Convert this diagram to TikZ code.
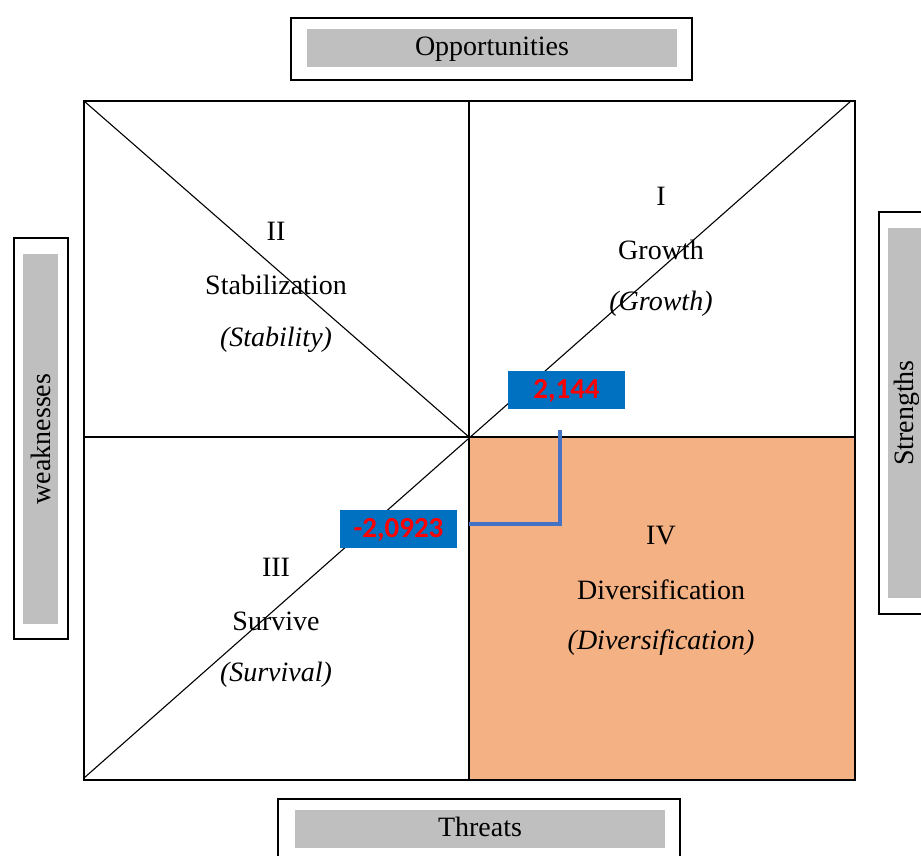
\documentclass[tikz,border=0pt]{standalone}
\usepackage{fontspec}
\setmainfont{Liberation Serif}
\newfontfamily\numfont{Carlito}
\definecolor{peach}{HTML}{F4B183}
\definecolor{boxgray}{HTML}{BFBFBF}
\definecolor{valblue}{HTML}{0070C0}
\definecolor{linkblue}{HTML}{4472C4}
\begin{document}
\begin{tikzpicture}[x=1pt,y=-1pt,
  txt/.style={font=\fontsize{28}{30}\selectfont, inner sep=0pt, yshift=-2pt},
  itxt/.style={font=\fontsize{28}{30}\selectfont\itshape, inner sep=0pt, yshift=-2pt},
  outerbox/.style={draw=black, line width=2pt, fill=white},
  graybox/.style={fill=boxgray, draw=none, inner sep=0pt, font=\fontsize{28}{30}\selectfont},
  valbox/.style={fill=valblue, draw=none, inner sep=0pt, text=red, font=\numfont\bfseries\fontsize{29}{30}\selectfont},
  gridline/.style={draw=black, line width=1.8pt},
  diag/.style={draw=black, line width=1.1pt}]
\useasboundingbox (0,0) rectangle (921,855);
% quadrant IV fill
\fill[peach] (469,437) rectangle (855,780);
% diagonals
\draw[diag] (84,101) -- (469,437);
\draw[diag] (84,778) -- (851,101);
% grid
\draw[gridline] (469,101) -- (469,780);
\draw[gridline] (84,437) -- (855,437);
\draw[gridline] (84,101) rectangle (855,780);
% Opportunities
\node[outerbox, minimum width=401pt, minimum height=62pt] (oppbox) at (491.5,49) {};
\node[graybox, minimum width=370pt, minimum height=38pt, text depth=4pt] (opp) at (492,48) {Opportunities};
% Threats (cut by the lower edge)
\draw[line width=2pt] (278,858) -- (278,799) -- (680,799) -- (680,858);
\node[graybox, minimum width=370pt, minimum height=38pt, text depth=4pt] (thr) at (480,829) {Threats};
% weaknesses
\node[outerbox, minimum width=54pt, minimum height=401pt] (weakbox) at (41,438.5) {};
\node[graybox, minimum width=370pt, minimum height=35pt, rotate=90] (weak) at (40.5,439) {weaknesses};
% Strengths (cut by the right edge)
\draw[line width=2pt] (924,212) -- (879,212) -- (879,614) -- (924,614);
\fill[boxgray] (888,228) rectangle (921,598);
\node[font=\fontsize{28}{30}\selectfont, inner sep=0pt, rotate=90] (str) at (907,413) {Strengths};
% quadrant texts
\node[txt] (q1a) at (661,194) {I};
\node[txt] (q1b) at (661,248) {Growth};
\node[itxt] (q1c) at (661,302) {(Growth)};
\node[txt] (q2a) at (276,229) {II};
\node[txt] (q2b) at (276,283) {Stabilization};
\node[itxt] (q2c) at (276,338) {(Stability)};
\node[txt] (q3a) at (276,565) {III};
\node[txt] (q3b) at (276,619) {Survive};
\node[itxt] (q3c) at (276,673) {(Survival)};
\node[txt] (q4a) at (661,534) {IV};
\node[txt] (q4b) at (661,588) {Diversification};
\node[itxt] (q4c) at (661,641) {(Diversification)};
% values
\node[valbox, minimum width=117pt, minimum height=38pt, text depth=3pt] (v1) at (566.5,390) {2,144};
\node[valbox, minimum width=117pt, minimum height=38pt, text depth=3pt] (v2) at (398.5,529) {-2,0923};
% connector
\coordinate (c1) at (560,430);
\coordinate (c2) at (469,524);
\draw[linkblue, line width=4.5pt] (c1) |- (c2);
\end{tikzpicture}
\end{document}
